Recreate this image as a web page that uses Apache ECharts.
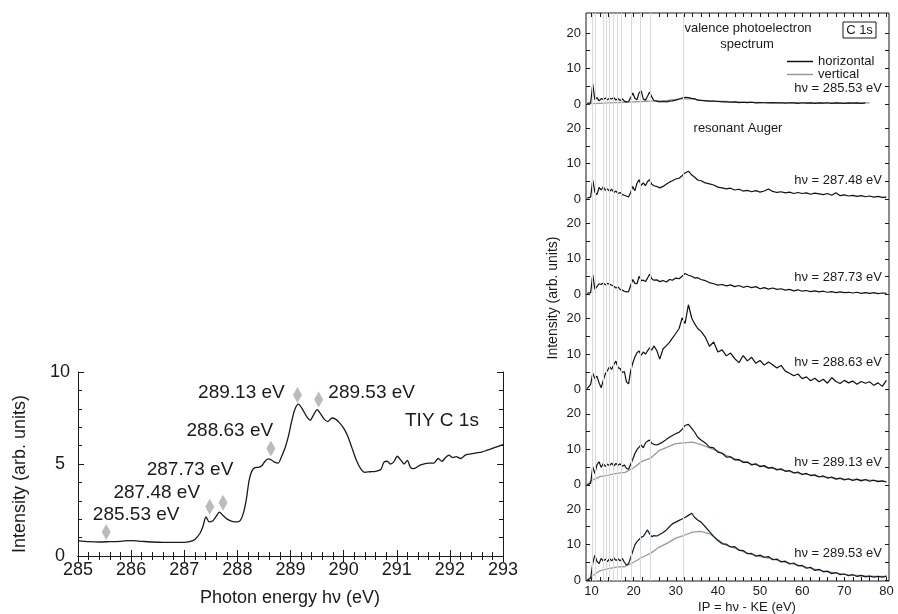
<!DOCTYPE html>
<html><head><meta charset="utf-8">
<script src="https://cdn.jsdelivr.net/npm/echarts@6/dist/echarts.min.js"></script>
<style>html,body{margin:0;padding:0;background:#fff}#c{width:898px;height:614px}</style>
</head><body><div id="c"></div>
<script>
// ---------- Left panel: TIY C 1s absorption ----------
const leftE = [285.0,285.2,285.4,285.6,285.8,286.0,286.2,286.4,286.6,286.8,287.0,287.1,287.2,287.3,287.35,287.41,287.47,287.54,287.6,287.66,287.73,287.8,287.9,288.0,288.06,288.12,288.17,288.22,288.27,288.33,288.4,288.46,288.52,288.58,288.64,288.7,288.77,288.83,288.9,288.96,289.02,289.08,289.15,289.22,289.3,289.37,289.44,289.5,289.56,289.63,289.7,289.78,289.84,289.92,290.0,290.08,290.16,290.24,290.32,290.4,290.5,290.6,290.7,290.76,290.82,290.88,290.94,291.01,291.08,291.14,291.2,291.26,291.32,291.45,291.6,291.7,291.78,291.85,291.92,291.98,292.05,292.12,292.2,292.3,292.4,292.5,292.6,292.7,292.8,292.9,293.0];
const leftI = [0.82,0.78,0.76,0.78,0.80,0.84,0.80,0.76,0.74,0.74,0.74,0.78,0.90,1.25,1.6,2.12,1.85,1.92,2.15,2.38,2.2,2.02,1.88,1.85,1.95,2.4,3.1,4.1,4.6,4.8,4.82,4.9,5.15,5.28,5.22,5.1,5.05,5.4,5.9,6.5,7.3,7.95,8.25,8.0,7.6,7.38,7.7,7.95,7.75,7.45,7.3,7.5,7.45,7.25,6.95,6.5,5.85,5.2,4.75,4.55,4.58,4.6,4.7,5.1,5.15,5.0,5.1,5.42,5.2,5.0,5.2,4.8,4.75,4.95,5.05,5.05,5.3,5.15,5.35,5.48,5.35,5.4,5.3,5.5,5.55,5.6,5.65,5.75,5.85,5.95,6.05];
const markerE = [285.53, 287.48, 287.73, 288.63, 289.13, 289.53];
const markerI = [1.3, 2.68, 2.9, 5.84, 8.75, 8.5];
const markerText = ['285.53 eV', '287.48 eV', '287.73 eV', '288.63 eV', '289.13 eV', '289.53 eV'];
const leftXTicks = [285, 293, 1];
const leftYTicks = [0, 10, 5];

// ---------- Right panel: photoelectron / resonant Auger spectra ----------
const ipGrid = [9.0,9.8,10.3,10.8,11.3,11.8,12.3,12.8,13.3,13.8,14.3,14.8,15.3,15.8,16.3,16.8,17.3,17.8,18.3,18.8,19.3,19.8,20.3,20.8,21.3,21.8,22.3,22.8,23.3,23.8,24.3,24.8,25.5,26.2,27,27.8,28.5,29.2,30,30.8,31.5,32.2,33,33.8,34.5,35.2,36,37,38,39,40,41,42,43,44,45,46,47,48,49,50,51,52,53,54,55,56,57,58,59,60,61,62,63,64,65,66,67,68,69,70,71,72,73,74,75,76,77,78,79,80];
const ipCoarse = [9,10,12,14,16,18,20,22,24,26,28,30,32,34,36,38,40,42,44,46,48,50,52,54,56,58,60,62,64,66,68,70,72,74,76,78,80];

const horiz28553 = [0.2,0.3,
 5.6,1.2,1.8,0.9,1.5,1.3,1.7,1.2,1.6,1.4,1.8,1.1,1.6,1.0,1.4,0.8,0.6,0.7,1.8,3.1,1.6,1.2,3.2,3.7,1.4,1.1,2.2,3.4,2.0,1.0,
 0.8,0.6,0.7,0.6,0.8,0.9,1.1,1.4,1.7,1.9,1.8,1.6,1.5,1.1,1.0,
 0.9,0.8,0.8,0.7,0.6,0.6,0.5,0.6,0.4,0.5,0.4,0.5,0.3,0.4,0.35,0.3,0.4,0.3,0.35,0.25,0.35,0.3,0.2,0.35,0.25,0.3,0.2,0.3,0.25,0.35,0.2,0.3,0.25,0.2,0.3,0.25,0.3,0.2,0.3,null,null,null,null,null];
const vert28553 = [0.1,0.1,0.2,0.3,0.4,0.5,0.6,0.7,0.8,0.9,1.0,1.3,1.5,1.4,1.1,0.9,0.8,0.7,0.6,0.5,0.5,0.4,0.4,0.4,0.3,0.35,0.3,0.3,0.3,0.25,0.3,0.25,0.3,0.25,0.3,null,null];
const horiz28748 = [0.3,0.6,
 5.4,2.0,1.3,3.3,2.6,3.5,2.5,2.9,2.2,2.8,1.9,2.3,1.6,1.9,1.3,1.1,0.9,0.6,1.9,3.6,2.4,4.5,5.5,3.9,4.6,3.8,5.0,5.5,4.2,3.8,
 3.6,3.2,3.6,4.3,4.8,5.2,5.7,5.9,6.6,7.4,7.9,6.8,6.2,5.4,5.2,
 4.6,4.3,4.0,3.4,3.2,2.9,3.1,2.6,2.8,2.3,2.5,2.1,2.4,2.0,2.3,2.9,2.2,1.9,2.1,1.8,2.0,1.6,1.9,1.6,1.8,1.4,1.7,1.5,1.3,1.6,1.1,1.8,1.0,1.2,0.9,1.1,0.8,1.0,0.7,0.9,0.6,0.8,0.5,0.6];
const horiz28773 = [0.3,0.5,
 5.6,1.4,2.2,3.0,2.8,3.2,2.7,3.1,2.9,2.6,2.3,1.8,2.1,1.4,1.2,0.9,0.7,0.8,2.5,4.2,3.1,3.0,5.1,3.9,4.0,3.6,4.6,5.7,4.4,4.0,
 4.1,3.6,3.9,3.5,4.2,4.0,4.6,4.4,5.1,5.9,5.4,5.1,4.6,4.7,4.2,
 3.9,3.3,3.0,2.6,2.8,2.4,2.7,2.2,2.5,2.0,2.3,1.9,2.2,1.6,1.9,1.5,1.8,1.4,1.6,1.2,1.4,1.0,1.3,0.9,1.1,0.8,1.0,0.7,0.9,0.6,0.8,0.5,0.7,0.5,0.6,0.4,0.6,0.3,0.5,0.3,0.5,0.2,0.4,0.3];
const horiz28863 = [0.3,1.5,
 4.6,3.1,3.8,1.9,0.5,2.6,4.5,5.4,6.5,5.7,7.1,8.0,6.2,5.9,4.8,5.1,2.2,1.6,5.3,7.5,9.2,10.4,10.9,9.7,10.6,10.0,10.9,11.8,11.1,12.3,
 11.0,8.6,11.5,12.4,13.3,14.5,15.8,17.2,20.2,18.6,23.9,20.1,18.5,17.2,16.4,
 14.8,12.2,13.4,10.6,11.2,9.5,10.3,8.7,7.6,9.6,8.1,9.1,7.4,8.2,6.9,7.8,7.0,6.1,6.8,5.2,4.6,3.9,4.4,3.1,3.6,2.5,3.2,2.2,2.9,1.8,3.4,2.3,1.7,2.6,1.9,2.4,1.5,2.3,1.8,2.2,1.2,1.9,0.9,2.6];
const horiz28913 = [0.0,0.4,
 5.1,3.2,5.6,6.5,4.9,6.0,5.2,5.8,5.4,6.1,5.3,6.0,5.5,5.9,5.2,5.6,4.6,4.4,5.8,7.2,8.8,9.9,10.6,11.2,10.4,11.8,12.3,12.6,11.7,11.4,
 11.2,11.6,12.1,12.8,13.4,13.9,14.4,14.8,15.6,16.7,17.0,15.9,14.8,13.4,12.6,
 11.8,10.6,10.4,9.2,8.9,7.8,7.9,7.0,7.1,6.3,6.4,5.6,5.9,5.1,5.4,4.7,4.9,4.2,4.5,3.8,4.0,3.3,3.6,2.9,3.2,2.6,2.8,2.2,2.5,1.9,2.2,1.6,1.9,1.4,1.7,1.2,1.6,1.1,1.5,1.0,1.3,0.9,1.1,0.8];
const vert28913 = [0.0,1.2,2.3,2.7,3.2,3.5,4.8,6.6,7.5,9.6,10.6,11.6,11.8,12.0,11.3,10.4,9.5,8.3,7.3,6.6,5.9,5.4,4.8,4.4,4.0,3.5,3.1,2.8,2.4,2.1,1.8,1.6,1.5,1.4,1.3,1.1,0.9];
const horiz28953 = [0.0,0.5,
 4.7,7.0,5.2,4.6,6.1,5.3,5.9,5.2,6.0,5.4,6.2,5.5,5.9,5.4,6.1,5.0,4.2,4.6,6.3,8.1,9.9,10.8,11.4,12.0,12.3,13.2,14.1,13.0,12.2,12.5,
 12.4,12.8,13.4,14.1,15.0,15.8,16.3,16.8,17.2,17.6,18.2,18.8,17.6,16.9,16.3,
 15.0,13.6,12.3,11.1,10.2,10.1,9.3,9.4,8.4,8.3,7.4,7.5,6.7,7.0,6.4,6.6,5.7,5.9,5.1,5.3,4.5,4.8,4.0,4.1,3.3,3.6,2.7,3.0,2.3,2.5,1.8,2.1,1.5,1.7,1.2,1.5,1.0,1.3,0.9,1.1,0.8,1.0,0.8,1.1];
const vert28953 = [0.0,1.0,2.6,3.2,3.6,3.8,5.0,6.4,7.5,9.2,10.4,11.8,12.6,13.5,13.7,13.0,11.3,9.8,9.0,8.0,7.2,6.6,6.2,5.6,5.0,4.5,3.9,3.3,2.8,2.3,2.0,1.6,1.4,1.2,1.1,1.0,1.0];

const ipLines = [10.3, 11.0, 12.8, 13.4, 14.2, 15.2, 16.0, 17.1, 19.5, 21.5, 23.9, 31.8];
const panelLabels = ['hν = 285.53 eV','hν = 287.48 eV','hν = 287.73 eV','hν = 288.63 eV','hν = 289.13 eV','hν = 289.53 eV'];
const panelHoriz = [horiz28553, horiz28748, horiz28773, horiz28863, horiz28913, horiz28953];
const panelVert = [vert28553, null, null, null, vert28913, vert28953];
const ipTickLabels = [10, 20, 30, 40, 50, 60, 70, 80];
const ipMinorTicks = [10,12,14,16,18,20,22,24,26,28,30,32,34,36,38,40,42,44,46,48,50,52,54,56,58,60,62,64,66,68,70,72,74,76,78,80];
const intTicks = [0, 5, 10, 15, 20];
const intLabels = [0, 10, 20];

// ---------- layout / style ----------
const FONT = '"Liberation Sans", Arial, Helvetica, sans-serif';
const INK = '#1a1a1a';
const GRAY = '#9a9a9a';
const R = {left: 586, width: 303, top: 13, bottom: 581};
const panelTops = [13, 108.2, 203.4, 298.6, 393.8, 489];
const panelHeights = [95.2, 95.2, 95.2, 95.2, 95.2, 92];
const panelMins = [-1.18, -1.18, -1.18, -1.18, -1.18, -0.28];
const panelMax = 25.63;
const IPMIN = 8.7, IPMAX = 80.6;
const labelOffsets = [[30,-17],[-53,-14],[-33,-33],[-41,-18],[-56,-2],[53,-7]];
const panelLabelY = [88, 180, 277, 362, 462, 553];

const zip = (xs, ys) => xs.map((x, i) => [x, ys[i]]);

const grids = [
  {left: 78, top: 372, width: 425, height: 184, show: false},
  {left: R.left, top: R.top, width: R.width, height: R.bottom - R.top, show: true, borderColor: INK, borderWidth: 1, backgroundColor: 'transparent'}
];
panelTops.forEach((t, i) => grids.push({left: R.left, top: t, width: R.width, height: panelHeights[i], show: false}));
grids.forEach(g => { g.containLabel = false; g.outerBoundsMode = 'none'; });

const tickLine = {color: INK, width: 1};
const xAxes = [
  {gridIndex: 0, type: 'value', min: leftXTicks[0], max: leftXTicks[1], interval: leftXTicks[2], position: 'bottom',
   axisLine: {show: true, lineStyle: tickLine}, axisTick: {show: true, inside: true, length: 6, lineStyle: tickLine},
   minorTick: {show: true, splitNumber: 5, length: 4, lineStyle: tickLine}, splitLine: {show: false},
   axisLabel: {show: true, fontSize: 18, fontFamily: FONT, color: INK, margin: 5}},
  {gridIndex: 0, type: 'value', min: leftXTicks[0], max: leftXTicks[1], interval: leftXTicks[2], position: 'top',
   axisLine: {show: true, lineStyle: tickLine}, axisTick: {show: true, inside: true, length: 6, lineStyle: tickLine},
   minorTick: {show: true, splitNumber: 5, length: 4, lineStyle: tickLine}, splitLine: {show: false}, axisLabel: {show: false}},
  {gridIndex: 1, type: 'value', min: IPMIN, max: IPMAX, position: 'bottom',
   axisLine: {show: false}, axisTick: {show: true, inside: true, length: 4, lineStyle: tickLine, customValues: ipMinorTicks},
   splitLine: {show: false}, axisLabel: {show: true, fontSize: 13, fontFamily: FONT, color: INK, margin: 4, customValues: ipTickLabels}},
  {gridIndex: 1, type: 'value', min: IPMIN, max: IPMAX, position: 'top',
   axisLine: {show: false}, axisTick: {show: true, inside: true, length: 4, lineStyle: tickLine, customValues: ipMinorTicks},
   splitLine: {show: false}, axisLabel: {show: false}}
];
const yAxes = [
  {gridIndex: 0, type: 'value', min: leftYTicks[0], max: leftYTicks[1], interval: leftYTicks[2], position: 'left',
   axisLine: {show: true, lineStyle: tickLine}, axisTick: {show: true, inside: true, length: 6, lineStyle: tickLine},
   minorTick: {show: true, splitNumber: 5, length: 4, lineStyle: tickLine}, splitLine: {show: false},
   axisLabel: {show: true, fontSize: 18, fontFamily: FONT, color: INK, margin: 18, align: 'center'}},
  {gridIndex: 0, type: 'value', min: leftYTicks[0], max: leftYTicks[1], interval: leftYTicks[2], position: 'right',
   axisLine: {show: true, lineStyle: tickLine}, axisTick: {show: true, inside: true, length: 6, lineStyle: tickLine},
   minorTick: {show: true, splitNumber: 5, length: 4, lineStyle: tickLine}, splitLine: {show: false}, axisLabel: {show: false}},
  {gridIndex: 1, type: 'value', min: 0, max: 1, show: false}
];
const series = [
  {type: 'line', name: 'TIY C 1s', xAxisIndex: 0, yAxisIndex: 0, data: zip(leftE, leftI), showSymbol: false, smooth: 0.25,
   lineStyle: {color: INK, width: 1.3}, itemStyle: {color: INK}, z: 3, silent: true},
  {type: 'scatter', name: 'resonances', xAxisIndex: 0, yAxisIndex: 0, symbol: 'diamond', symbolSize: [9, 16],
   itemStyle: {color: '#aaaaaa'}, z: 4, silent: true, label: {show: false},
   data: markerE.map((e, i) => [e, markerI[i]])},
  {type: 'line', name: 'ip', xAxisIndex: 2, yAxisIndex: 2, data: [], z: 1, silent: true,
   markLine: {symbol: 'none', silent: true, animation: false, label: {show: false},
              lineStyle: {color: '#dadada', type: 'solid', width: 1},
              data: ipLines.map(v => ({xAxis: v}))}}
];

panelTops.forEach((t, i) => {
  const gi = 2 + i;
  xAxes.push({gridIndex: gi, type: 'value', min: IPMIN, max: IPMAX, show: false});
  const xi = xAxes.length - 1;
  yAxes.push({gridIndex: gi, type: 'value', min: panelMins[i], max: panelMax, position: 'left',
    axisLine: {show: false}, splitLine: {show: false},
    axisTick: {show: true, inside: true, length: 4, lineStyle: tickLine, customValues: intTicks},
    axisLabel: {show: true, fontSize: 13, fontFamily: FONT, color: INK, margin: 5, customValues: intLabels}});
  const yi = yAxes.length - 1;
  yAxes.push({gridIndex: gi, type: 'value', min: panelMins[i], max: panelMax, position: 'right',
    axisLine: {show: false}, splitLine: {show: false},
    axisTick: {show: true, inside: true, length: 4, lineStyle: tickLine, customValues: intTicks},
    axisLabel: {show: false}});
  series.push({type: 'line', name: 'horizontal', xAxisIndex: xi, yAxisIndex: yi, data: zip(ipGrid, panelHoriz[i]),
    showSymbol: false, connectNulls: false, color: '#111111', lineStyle: {color: i === 5 ? '#0f1a2a' : '#111111', width: 1.2}, z: 3, silent: true});
  if (panelVert[i]) {
    series.push({type: 'line', name: 'vertical', xAxisIndex: xi, yAxisIndex: yi, data: zip(ipCoarse, panelVert[i]),
      showSymbol: false, color: GRAY, lineStyle: {color: GRAY, width: 1.3}, z: 2, silent: true});
  }
});

const txt = (text, x, y, size, align, rot) => ({type: 'text', x: x, y: y, rotation: rot || 0, silent: true, z: 10,
  style: {text: text, fill: INK, font: size + 'px ' + FONT, align: align || 'center', verticalAlign: 'middle'}});

const graphics = [
  txt('Intensity (arb. units)', 20, 474, 18, 'center', Math.PI / 2),
  txt('Photon energy hν (eV)', 290, 598, 18),
  txt('TIY C 1s', 405, 421, 19, 'left'),
  txt('Intensity (arb. units)', 553, 298, 14, 'center', Math.PI / 2),
  txt('IP = hν - KE (eV)', 747, 607, 13),
  txt('valence photoelectron', 748, 28, 13),
  txt('spectrum', 747, 44, 13),
  txt('resonant Auger', 738, 128, 13),
  {type: 'rect', shape: {x: 843, y: 22, width: 33, height: 16}, silent: true, style: {fill: 'none', stroke: INK, lineWidth: 1}},
  txt('C 1s', 859.5, 30.5, 13)
];
panelLabels.forEach((l, i) => graphics.push(txt(l, 882, panelLabelY[i], 13, 'right')));

const chart = echarts.init(document.getElementById('c'), null, {renderer: 'canvas'});
chart.setOption({
  animation: false,
  backgroundColor: '#ffffff',
  textStyle: {fontFamily: FONT},
  grid: grids,
  xAxis: xAxes,
  yAxis: yAxes,
  legend: {data: ['horizontal', 'vertical'], orient: 'vertical', left: 787, top: 55, icon: 'rect',
    itemWidth: 26, itemHeight: 1.5, itemGap: 0, selectedMode: false, padding: 0,
    textStyle: {fontSize: 13, fontFamily: FONT, color: INK, lineHeight: 12, padding: [0, 0, 0, 0]}},
  series: series,
  graphic: graphics
});
// resonance labels anchored to the marker data positions
const markerLabels = markerE.map((e, i) => {
  const p = chart.convertToPixel({gridIndex: 0}, [e, markerI[i]]);
  return txt(markerText[i], p[0] + labelOffsets[i][0], p[1] + labelOffsets[i][1], 19);
});
chart.setOption({graphic: graphics.concat(markerLabels)});
</script></body></html>
